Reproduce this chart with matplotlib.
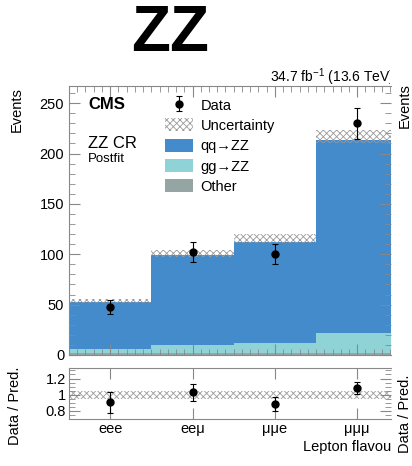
import numpy as np
import matplotlib
matplotlib.use('Agg')
import matplotlib.pyplot as plt
from matplotlib.patches import Patch
from matplotlib.ticker import MultipleLocator, FixedLocator
from matplotlib.transforms import Bbox

plt.rcParams['font.family'] = ['Liberation Sans', 'DejaVu Sans']
plt.rcParams['hatch.linewidth'] = 0.6

# yields per lepton-flavour channel
channels = ['eee', 'ee\u03bc', '\u03bc\u03bce', '\u03bc\u03bc\u03bc']
data = np.array([48, 102, 100, 230])
qq_zz = np.array([47.0, 89.0, 101.0, 191.0])
gg_zz = np.array([4.5, 8.5, 10.0, 20.0])
other = np.array([1.5, 1.5, 1.6, 2.0])
unc_lo = np.array([52.0, 97.5, 111.5, 210.0])
unc_hi = np.array([56.0, 104.0, 120.0, 223.0])
ratio_unc_lo = np.array([0.95, 0.95, 0.95, 0.95])
ratio_unc_hi = np.array([1.05, 1.05, 1.05, 1.05])

W, H = 412, 466
c_qq = '#448bcc'
c_gg = '#90d3d7'
c_other = '#95a5a4'
c_hatch = '#9a9a9a'
c_frame = '#888888'
fs = 10.5
hatch = 'xxxxx'

def fx(x):
    return x / W

def fy(y):
    return 1 - y / H

fig = plt.figure(figsize=(W / 100, H / 100), dpi=100)
ax = fig.add_axes([fx(69), fy(355), fx(391) - fx(69), fy(86) - fy(355)])
rax = fig.add_axes([fx(69), fy(419), fx(391) - fx(69), fy(368) - fy(419)])

x = np.arange(len(channels))
centers = x + 0.5
total = qq_zz + gg_zz + other

# stacked backgrounds
ax.bar(x, other, width=1, align='edge', color=c_other, linewidth=0)
ax.bar(x, gg_zz, bottom=other, width=1, align='edge', color=c_gg, linewidth=0)
ax.bar(x, qq_zz, bottom=other + gg_zz, width=1, align='edge', color=c_qq, linewidth=0)
ax.bar(x, unc_hi - unc_lo, bottom=unc_lo, width=1, align='edge', fill=False,
       hatch=hatch, edgecolor=c_hatch, linewidth=0)
dat = ax.errorbar(centers, data, yerr=np.sqrt(data), fmt='o', color='black',
                  markersize=5, elinewidth=0.8, capsize=2, capthick=0.8)

ax.set_xlim(0, 3.91)
ax.set_ylim(0, 267)
ax.yaxis.set_major_locator(MultipleLocator(50))
ax.yaxis.set_minor_locator(MultipleLocator(10))
ax.xaxis.set_major_locator(FixedLocator(centers))
ax.xaxis.set_minor_locator(MultipleLocator(0.1))
ax.tick_params(which='both', direction='in', top=True, right=True, colors=c_frame,
               labelcolor='black', labelsize=fs)
ax.tick_params(which='major', length=8)
ax.tick_params(which='minor', length=4)
ax.tick_params(axis='x', labelbottom=False)
ax.spines['right'].set_visible(False)
for s in ['left', 'top', 'bottom']:
    ax.spines[s].set_color(c_frame)

# ratio panel
ratio = data / total
rerr = np.sqrt(data) / total
rax.bar(x, ratio_unc_hi - ratio_unc_lo, bottom=ratio_unc_lo, width=1, align='edge',
        fill=False, hatch=hatch, edgecolor=c_hatch, linewidth=0)
rax.errorbar(centers, ratio, yerr=rerr, fmt='o', color='black',
             markersize=5, elinewidth=0.8, capsize=2, capthick=0.8)
rax.set_xlim(0, 3.91)
rax.set_ylim(0.70, 1.33)
rax.set_xticks(centers)
rax.set_xticklabels(channels)
rax.set_yticks([0.8, 1.0, 1.2])
rax.set_yticklabels(['0.8', '1', '1.2'])
rax.yaxis.set_minor_locator(MultipleLocator(0.05))
rax.tick_params(which='both', direction='in', top=True, right=True, colors=c_frame,
                labelcolor='black', labelsize=fs)
rax.tick_params(which='major', length=8, pad=2)
rax.tick_params(which='minor', length=4)
rax.spines['right'].set_visible(False)
for s in ['left', 'top', 'bottom']:
    rax.spines[s].set_color(c_frame)

# legend
handles = [dat,
           Patch(facecolor='white', edgecolor=c_hatch, hatch=hatch, linewidth=0),
           Patch(facecolor=c_qq, linewidth=0),
           Patch(facecolor=c_gg, linewidth=0),
           Patch(facecolor=c_other, linewidth=0)]
labels = ['Data', 'Uncertainty', 'qq\u2192ZZ', 'gg\u2192ZZ', 'Other']
fig.legend(handles, labels, loc='upper left', bbox_to_anchor=(fx(165), fy(98)),
           frameon=False, fontsize=fs, borderpad=0, borderaxespad=0,
           handlelength=1.95, handleheight=1.0, handletextpad=0.5, labelspacing=0.4)

# labels and annotations
fig.text(fx(170), fy(34), 'ZZ', fontsize=46, fontweight='bold', ha='center', va='center')
fig.text(fx(88), fy(104), 'CMS', fontsize=12, fontweight='bold', ha='left', va='center')
fig.text(fx(88), fy(143), 'ZZ CR', fontsize=12, ha='left', va='center')
fig.text(fx(88), fy(159), 'Postfit', fontsize=9.5, ha='left', va='center')

# texts running past the frame are cut near its right edge
lumi = fig.text(fx(394.5), fy(77), '34.7 fb$^{\\mathregular{-1}}$ (13.6 TeV)', fontsize=10,
                ha='right', va='center')
lumi.set_clip_box(Bbox([[0, 0], [390, H]]))
lumi.set_clip_on(True)
xlab = fig.text(fx(303), fy(447), 'Lepton flavour', fontsize=fs, ha='left', va='center')
xlab.set_clip_box(Bbox([[0, 0], [391, H]]))
xlab.set_clip_on(True)

fig.text(fx(16.5), fy(110), 'Events', fontsize=fs, rotation=90, ha='center', va='center')
fig.text(fx(15), fy(406), 'Data / Pred.', fontsize=fs, rotation=90, ha='center', va='center')
fig.text(fx(405), fy(106), 'Events', fontsize=fs, rotation=90, ha='center', va='center')
fig.text(fx(405), fy(414), 'Data / Pred.', fontsize=fs, rotation=90, ha='center', va='center')

fig.savefig('out.png', dpi=100)
